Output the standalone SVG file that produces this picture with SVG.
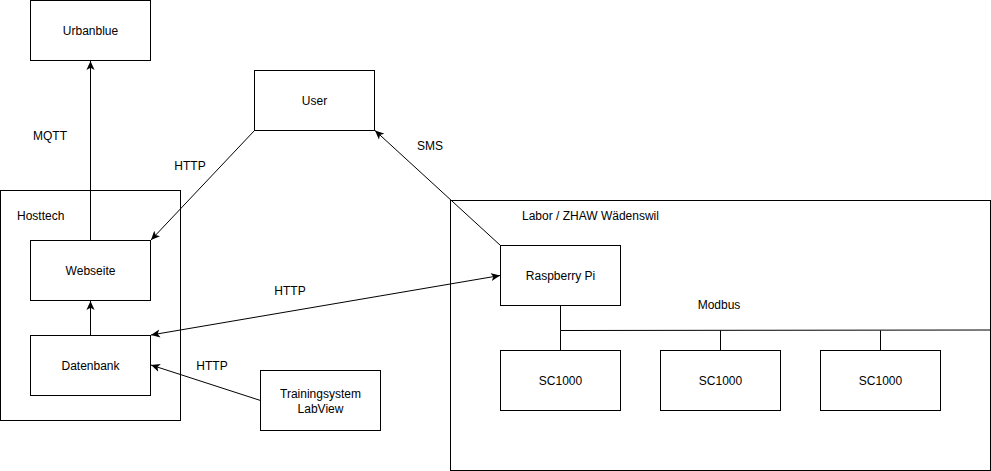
<svg xmlns="http://www.w3.org/2000/svg" width="991" height="471" viewBox="0 0 991 471">
<style>
.box{fill:#fff;stroke:#000;stroke-width:1}
.grp{fill:none;stroke:#000;stroke-width:1}
text{font-family:"Liberation Sans",Arial,sans-serif;font-size:12px;fill:#000}
.c{text-anchor:middle}
.ln{fill:none;stroke:#000;stroke-width:1}
</style>
<defs>
<marker id="arr" viewBox="0 0 10 10" refX="10" refY="5" markerWidth="9" markerHeight="9" orient="auto-start-reverse" markerUnits="userSpaceOnUse">
<path d="M0,0.5 L10,5 L0,9.5 L2.5,5 z" fill="#000"/>
</marker>
</defs>
<rect width="991" height="471" fill="#fff"/>
<g id="hosttech">
<rect class="grp" x="0.5" y="190.5" width="180" height="230"/>
<text x="17" y="220">Hosttech</text>
</g>
<g id="labor">
<rect class="grp" x="450.5" y="200.5" width="540" height="270"/>
<text x="522" y="220">Labor / ZHAW Wädenswil</text>
</g>
<g id="connectors">
<line class="ln" x1="90.5" y1="240" x2="90.5" y2="61" marker-end="url(#arr)"/>
<line class="ln" x1="90.5" y1="335" x2="90.5" y2="301" marker-end="url(#arr)"/>
<line class="ln" x1="254.5" y1="130.5" x2="151" y2="240" marker-end="url(#arr)"/>
<line class="ln" x1="500.5" y1="245.5" x2="375" y2="130.5" marker-end="url(#arr)"/>
<line class="ln" x1="151" y1="335" x2="500" y2="275.5" marker-start="url(#arr)" marker-end="url(#arr)"/>
<line class="ln" x1="260.5" y1="400.5" x2="151" y2="365" marker-end="url(#arr)"/>
<polyline class="ln" points="560.5,305.5 560.5,330.5 560.5,350.5"/>
<line class="ln" x1="560.5" y1="330.5" x2="990" y2="330"/>
<line class="ln" x1="720.5" y1="330.5" x2="720.5" y2="350.5"/>
<line class="ln" x1="880.5" y1="330.5" x2="880.5" y2="350.5"/>
<text x="50" y="140" class="c">MQTT</text>
<text x="190" y="170" class="c">HTTP</text>
<text x="430" y="150" class="c">SMS</text>
<text x="290" y="295" class="c">HTTP</text>
<text x="212" y="370" class="c">HTTP</text>
<text x="719" y="309" class="c">Modbus</text>
</g>
<g id="urbanblue">
<rect class="box" x="30.5" y="0.5" width="120" height="60"/>
<text x="90.5" y="35" class="c">Urbanblue</text>
</g>
<g id="user">
<rect class="box" x="254.5" y="70.5" width="120" height="60"/>
<text x="314.5" y="105" class="c">User</text>
</g>
<g id="webseite">
<rect class="box" x="30.5" y="240.5" width="120" height="60"/>
<text x="90.5" y="275" class="c">Webseite</text>
</g>
<g id="datenbank">
<rect class="box" x="30.5" y="335.5" width="120" height="60"/>
<text x="90.5" y="370" class="c">Datenbank</text>
</g>
<g id="trainingsystem">
<rect class="box" x="260.5" y="370.5" width="120" height="60"/>
<text x="320.5" y="398" class="c">Trainingsystem</text>
<text x="320.5" y="413" class="c">LabView</text>
</g>
<g id="raspberry">
<rect class="box" x="500.5" y="245.5" width="120" height="60"/>
<text x="560.5" y="280" class="c">Raspberry Pi</text>
</g>
<g id="sc1000-1">
<rect class="box" x="500.5" y="350.5" width="120" height="60"/>
<text x="560.5" y="385" class="c">SC1000</text>
</g>
<g id="sc1000-2">
<rect class="box" x="660.5" y="350.5" width="120" height="60"/>
<text x="720.5" y="385" class="c">SC1000</text>
</g>
<g id="sc1000-3">
<rect class="box" x="820.5" y="350.5" width="120" height="60"/>
<text x="880.5" y="385" class="c">SC1000</text>
</g>
</svg>
